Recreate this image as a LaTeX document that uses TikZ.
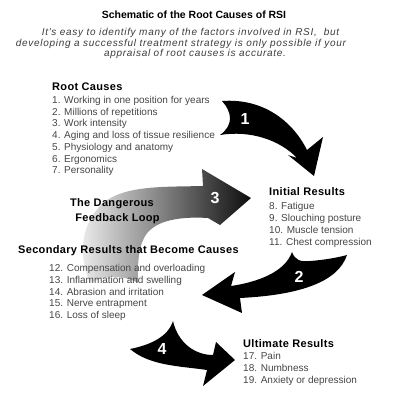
\documentclass[tikz,border=0pt]{standalone}
\usepackage{fontspec}
\setmainfont{Liberation Sans}
\newfontfamily\subfont[LetterSpace=7]{Liberation Sans}
\newfontfamily\headfont[LetterSpace=3]{Liberation Sans}
\definecolor{itemgray}{RGB}{70,70,70}
\definecolor{subgray}{RGB}{60,60,60}
\tikzset{
  item/.style={anchor=base west, inner sep=0pt, font=\fontsize{10}{12}\selectfont, text=itemgray},
  head/.style={anchor=base west, inner sep=0pt, font=\headfont\bfseries\fontsize{11}{13}\selectfont},
  loophead/.style={anchor=base, inner sep=0pt, font=\headfont\bfseries\fontsize{11}{13}\selectfont},
  subline/.style={anchor=base, inner sep=0pt, font=\subfont\itshape\fontsize{10}{12}\selectfont, text=subgray},
  num/.style={text=white, font=\bfseries\fontsize{16}{16}\selectfont, inner sep=0pt},
  blackarrow/.style={fill=black, draw=none},
}
\begin{document}
\begin{tikzpicture}[x=1pt,y=-1pt]
\useasboundingbox (0,0) rectangle (392,400);
\fill[white] (0,0) rectangle (392,400);

% arrow 3 (shaded feedback loop)
\shade[left color=black!6, right color=black!95]
  (90,283) .. controls (78,255) and (80,225) .. (103,203)
  .. controls (125,185) and (165,187) .. (203,186)
  -- (202,169) -- (251,198) -- (220,225) -- (208,218)
  .. controls (175,216) and (152,222) .. (144,238)
  .. controls (137,252) and (138,270) .. (138,283)
  .. controls (125,275) and (105,275) .. (90,283) -- cycle;

% arrow 1
\path[blackarrow]
  (222,101) .. controls (262,98) and (292,120) .. (307,150)
  -- (323,137) -- (314,176) -- (288,155) -- (297,158)
  .. controls (280,140) and (250,130) .. (220,135)
  .. controls (234,125) and (232,112) .. (222,101) -- cycle;

% arrow 2
\path[blackarrow]
  (292,252) .. controls (295,260) and (300,262) .. (310,261)
  .. controls (325,260) and (340,257) .. (347,255)
  .. controls (338,282) and (300,295) .. (240,298)
  -- (242,313) -- (202,295) -- (235,272) -- (231,286)
  .. controls (258,282) and (285,272) .. (292,252) -- cycle;

% arrow 4
\path[blackarrow]
  (173,321) .. controls (178,343) and (195,355) .. (213,355)
  -- (216,342) -- (235,360) -- (203,386) -- (207,370)
  .. controls (180,366) and (150,366) .. (130,349)
  .. controls (150,345) and (168,337) .. (173,321) -- cycle;

% numbers
\node[num] (n1) at (245,119) {1};
\node[num] (n2) at (299,277) {2};
\node[num] (n3) at (215,198) {3};
\node[num] (n4) at (162,349) {4};

% title
\node[anchor=base, inner sep=0pt, font=\bfseries\fontsize{10.5}{12}\selectfont] (title) at (194,18) {Schematic of the Root Causes of RSI};
\node[subline] (s1) at (190.5,35.5) {It's easy to identify many of the factors involved in RSI,\ \ but};
\node[subline] (s2) at (181,46) {developing a successful treatment strategy is only possible if your};
\node[subline] (s3) at (195,56.5) {appraisal of root causes is accurate.};

% root causes
\node[head] (rh) at (52,90) {Root Causes};
\foreach \t [count=\i] in {Working in one position for years, Millions of repetitions, Work intensity, Aging and loss of tissue resilience, Physiology and anatomy, Ergonomics, Personality}
  \node[item] (r\i) at (52,{103.5+(\i-1)*11.7}) {\i. \t};

% initial results
\node[head] (ih) at (269,195) {Initial Results};
\foreach \t [count=\i from 8] in {Fatigue, Slouching posture, Muscle tension, Chest compression}
  \node[item] (i\i) at (269,{209.5+(\i-8)*12}) {\i. \t};

% feedback loop label
\node[loophead] (fl1) at (112,206) {The Dangerous};
\node[loophead] (fl2) at (117.5,221) {Feedback Loop};

% secondary results
\node[head] (sh) at (18,253) {Secondary Results that Become Causes};
\foreach \t [count=\i from 12] in {Compensation and overloading, Inflammation and swelling, Abrasion and irritation, Nerve entrapment, Loss of sleep}
  \node[item] (c\i) at (49,{271.5+(\i-12)*11.75}) {\i. \t};

% ultimate results
\node[head] (uh) at (243,347) {Ultimate Results};
\foreach \t [count=\i from 17] in {Pain, Numbness, Anxiety or depression}
  \node[item] (u\i) at (243,{359.5+(\i-17)*12}) {\i. \t};
\end{tikzpicture}
\end{document}
